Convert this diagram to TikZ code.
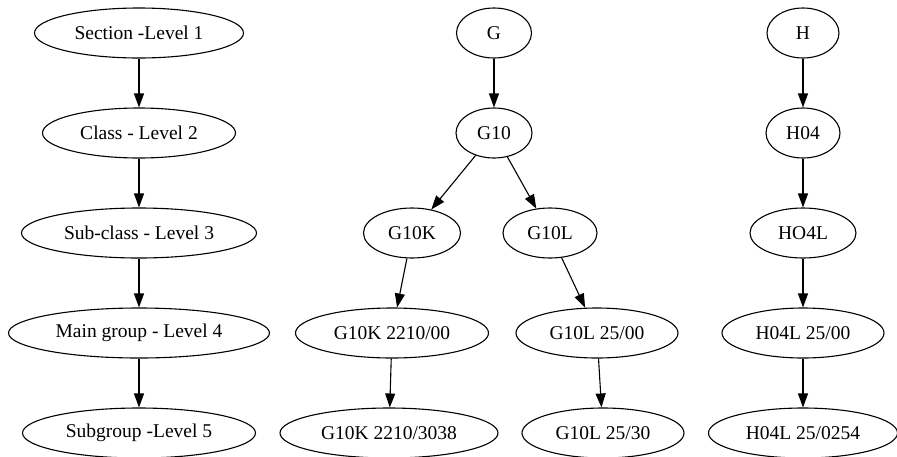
\documentclass[tikz,border=0pt]{standalone}
\usepackage{fontspec}
\setmainfont{Liberation Serif}
\usetikzlibrary{shapes.geometric,arrows.meta}

\begin{document}
\begin{tikzpicture}[x=1pt,y=-1pt]
	\useasboundingbox (0,0) rectangle (897,456);
	\begin{scope}[every node/.style={ellipse,draw,line width=1.1pt,inner sep=0pt,minimum height=50pt,font=\fontsize{19.5}{22}\selectfont}]
	% levels
	\node[minimum width=209pt] (L1) at (139,33) {Section -Level 1};
	\node[minimum width=193pt] (L2) at (139,133) {Class - Level 2};
	\node[minimum width=235pt] (L3) at (139,233) {Sub-class - Level 3};
	\node[minimum width=261pt] (L4) at (139,333) {Main group - Level 4};
	\node[minimum width=233pt] (L5) at (139,433) {Subgroup -Level 5};
	% G branch
	\node[minimum width=75pt] (G) at (494,33) {G};
	\node[minimum width=76pt] (G10) at (494,133) {G10};
	\node[minimum width=97pt] (GK) at (412,233) {G10K};
	\node[minimum width=94pt] (GL) at (550,233) {G10L};
	\node[minimum width=193pt] (GKa) at (392,333) {G10K 2210/00};
	\node[minimum width=162pt] (GLa) at (597,333) {G10L 25/00};
	\node[minimum width=218pt] (GKb) at (389,433) {G10K 2210/3038};
	\node[minimum width=162pt] (GLb) at (603,433) {G10L 25/30};
	% H branch
	\node[minimum width=72pt] (H) at (803,33) {H};
	\node[minimum width=74pt] (H04) at (803,133) {H04};
	\node[minimum width=106pt] (HL) at (803,233) {HO4L};
	\node[minimum width=162pt] (HLa) at (803,333) {H04L 25/00};
	\node[minimum width=189pt] (HLb) at (803,433) {H04L 25/0254};
	\end{scope}
	\tikzset{link/.style={line width=1.1pt,-{Triangle[length=14pt,width=10pt]}}}
	\draw [link] (L1) edge (L2);
	\draw [link] (L2) edge (L3);
	\draw [link] (L3) edge (L4);
	\draw [link] (L4) edge (L5);
	\draw [link] (G) edge (G10);
	\draw [link] (G10) edge (GK);
	\draw [link] (G10) edge (GL);
	\draw [link] (GK) edge (GKa);
	\draw [link] (GL) edge (GLa);
	\draw [link] (GKa) edge (GKb);
	\draw [link] (GLa) edge (GLb);
	\draw [link] (H) edge (H04);
	\draw [link] (H04) edge (HL);
	\draw [link] (HL) edge (HLa);
	\draw [link] (HLa) edge (HLb);
\end{tikzpicture}
\end{document}
